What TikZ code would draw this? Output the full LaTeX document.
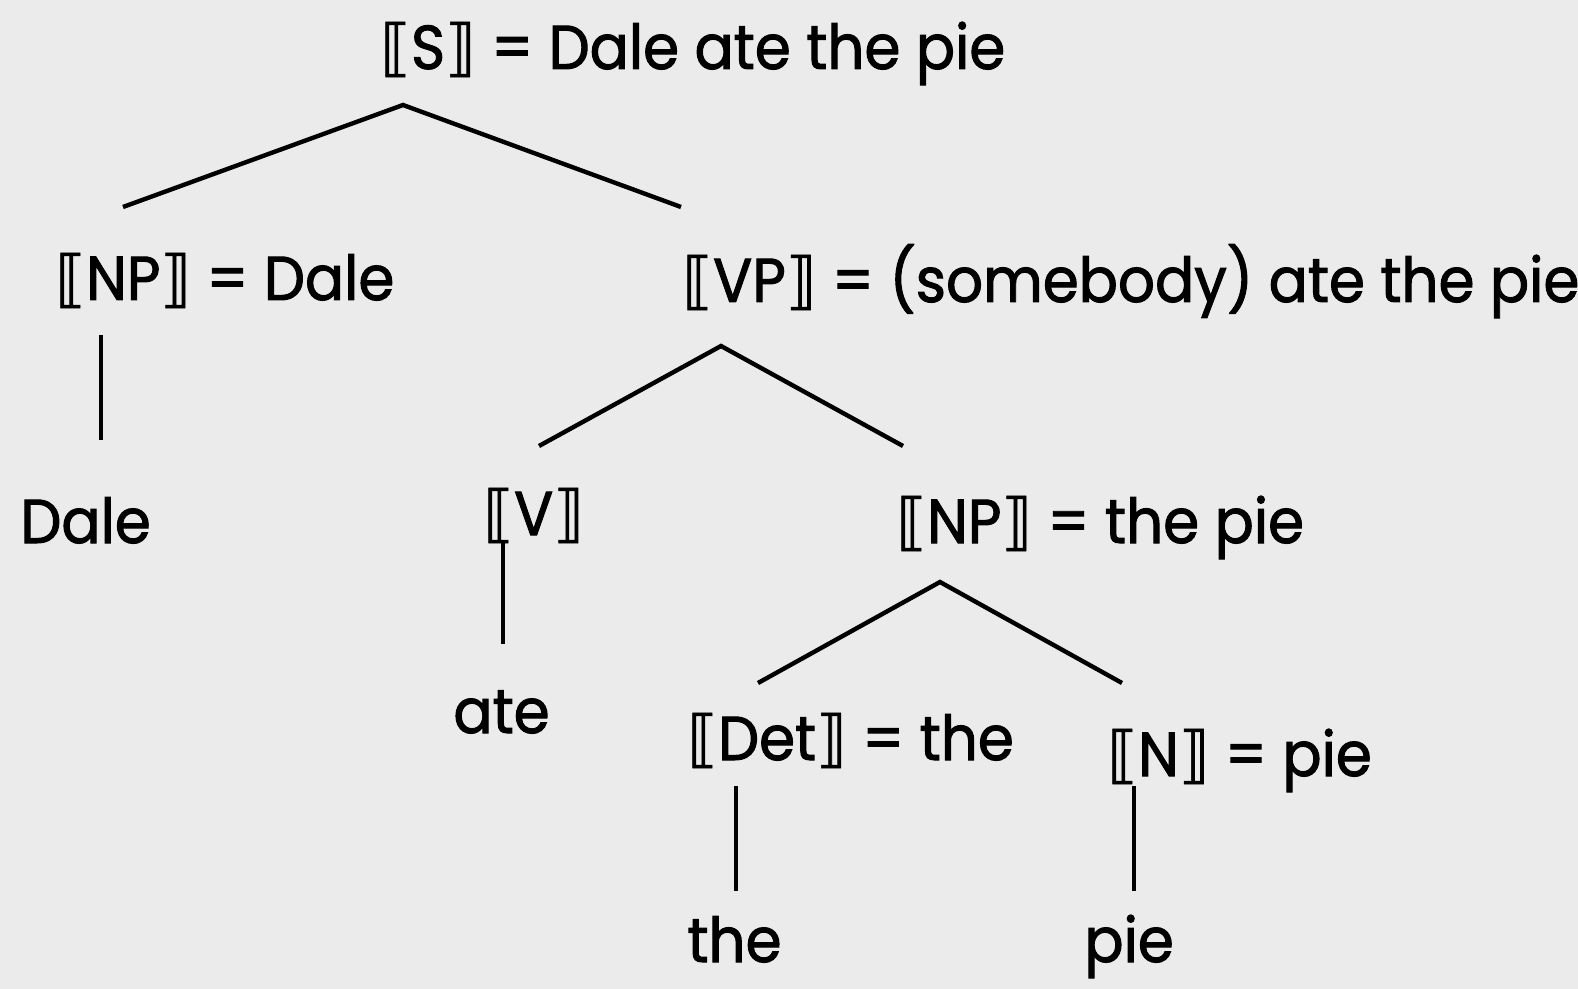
\documentclass[tikz,border=0pt]{standalone}
\usepackage{fontspec}
\setmainfont{Poppins}[FakeStretch=0.935, FakeBold=1.6]
\newfontfamily\brk{DejaVu Sans}[FakeBold=1]
\newcommand{\lsem}{{\brk ⟦}}
\newcommand{\rsem}{{\brk ⟧}}
\definecolor{bgpaper}{HTML}{EBEBEB}

\begin{document}
\begin{tikzpicture}[
  x=0.5pt, y=-0.5pt,
  lab/.style={anchor=base west, inner sep=0pt, font=\fontsize{31}{36}\selectfont},
  branch/.style={line width=2.2pt}
]
\fill[bgpaper] (0,0) rectangle (1578,989);
\useasboundingbox (0,0) rectangle (1578,989);

% labels
\node[lab] (s) at (380,69) {\lsem S\rsem{} = Dale ate the pie};
\node[lab] (np) at (55,300) {\lsem NP\rsem{} = Dale};
\node[lab] (dale) at (20,543) {Dale};
\node[lab] (vp) at (682,302) {\lsem VP\rsem{} = (somebody) ate the pie};
\node[lab] (v) at (483,535) {\lsem V\rsem};
\node[lab] (ate) at (453,733) {ate};
\node[lab] (np2) at (896,543) {\lsem NP\rsem{} = the pie};
\node[lab] (det) at (687,760) {\lsem Det\rsem{} = the};
\node[lab] (the) at (687,962) {the};
\node[lab] (n) at (1107,776) {\lsem N\rsem{} = pie};
\node[lab] (pie) at (1084,962) {pie};

% branch ends
\coordinate (sTop) at (403,105);
\coordinate (sL) at (123,207);
\coordinate (sR) at (681,207);
\coordinate (npTop) at (101,335);
\coordinate (npBot) at (101,440);
\coordinate (vpTop) at (721,346);
\coordinate (vpL) at (539,446);
\coordinate (vpR) at (903,446);
\coordinate (vTop) at (503,540);
\coordinate (vBot) at (503,644);
\coordinate (np2Top) at (940,582);
\coordinate (np2L) at (758,683);
\coordinate (np2R) at (1122,683);
\coordinate (detTop) at (736,786);
\coordinate (detBot) at (736,891);
\coordinate (nTop) at (1134,786);
\coordinate (nBot) at (1134,891);

\draw[branch] (sL) -- (sTop) -- (sR);
\draw[branch] (npTop) -- (npBot);
\draw[branch] (vpL) -- (vpTop) -- (vpR);
\draw[branch] (vTop) -- (vBot);
\draw[branch] (np2L) -- (np2Top) -- (np2R);
\draw[branch] (detTop) -- (detBot);
\draw[branch] (nTop) -- (nBot);
\end{tikzpicture}
\end{document}
